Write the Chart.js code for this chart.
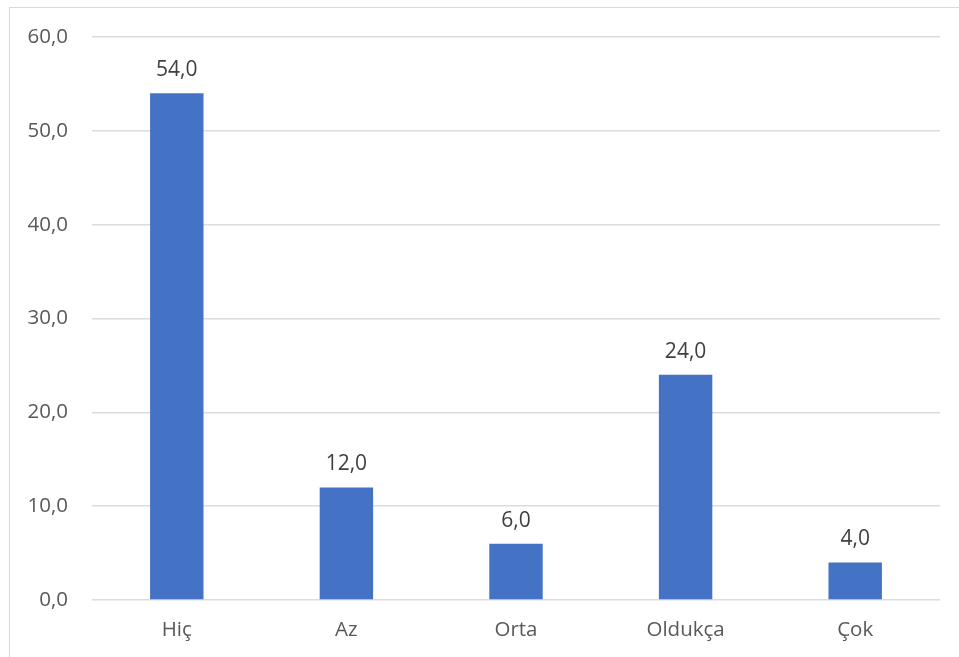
<!DOCTYPE html>
<html>
<head>
<meta charset="utf-8">
<script src="https://cdn.jsdelivr.net/npm/chart.js@4.4.1/dist/chart.umd.min.js"></script>
<style>
  html, body { margin: 0; padding: 0; background: #ffffff; overflow: hidden; }
  #frame {
    position: absolute; left: 9px; top: 7px;
    width: 980px; height: 700px;
    border: 1px solid #d9d9d9;
  }
  #wrap { position: absolute; left: 0; top: 0; width: 959px; height: 657px; }
</style>
</head>
<body>
<div id="frame"></div>
<div id="wrap"><canvas id="grafica"></canvas></div>
<script>
// Categorías y valores (%)
const categorias = ["Hiç", "Az", "Orta", "Oldukça", "Çok"];
const valores = [54.0, 12.0, 6.0, 24.0, 4.0];
const ejeMin = 0;
const ejeMax = 60;
const ejePaso = 10;

const fuente = "'Open Sans', 'Noto Sans', sans-serif";

// Formato con coma decimal
function fmt(v) {
    return v.toFixed(1).replace(".", ",");
}

// Etiquetas de valor sobre cada barra
const etiquetasValor = {
    id: "etiquetasValor",
    afterDatasetsDraw(chart) {
        const ctx = chart.ctx;
        const meta = chart.getDatasetMeta(0);
        ctx.save();
        ctx.font = "21px " + fuente;
        ctx.fillStyle = "#404040";
        ctx.textAlign = "center";
        ctx.textBaseline = "alphabetic";
        meta.data.forEach(function (bar, i) {
            ctx.fillText(fmt(valores[i]), bar.x, bar.y - 17);
        });
        ctx.restore();
    },
};

new Chart(document.getElementById("grafica").getContext("2d"), {
    type: "bar",
    data: {
        labels: categorias,
        datasets: [
            {
                data: valores,
                backgroundColor: "#4472c4",
                borderWidth: 0,
                categoryPercentage: 1.0,
                barPercentage: 0.315,
            },
        ],
    },
    options: {
        responsive: true,
        maintainAspectRatio: false,
        animation: false,
        layout: { padding: { top: 37, right: 19, left: 0, bottom: 0 } },
        plugins: {
            legend: { display: false },
            tooltip: { enabled: false },
        },
        scales: {
            x: {
                grid: { display: false, drawTicks: false },
                border: { display: false },
                ticks: {
                    color: "#595959",
                    font: { size: 20.5, family: fuente },
                    padding: 18,
                },
                afterFit(scale) { scale.height = 57; },
            },
            y: {
                min: ejeMin,
                max: ejeMax,
                grid: { color: "#dcdcdc", lineWidth: 1.5, drawTicks: false },
                border: { display: false },
                ticks: {
                    stepSize: ejePaso,
                    color: "#595959",
                    font: { size: 20.5, family: fuente },
                    padding: 24,
                    callback: function (v) { return fmt(v); },
                },
                afterFit(scale) { scale.width = 92; },
            },
        },
    },
    plugins: [etiquetasValor],
});
</script>
</body>
</html>
